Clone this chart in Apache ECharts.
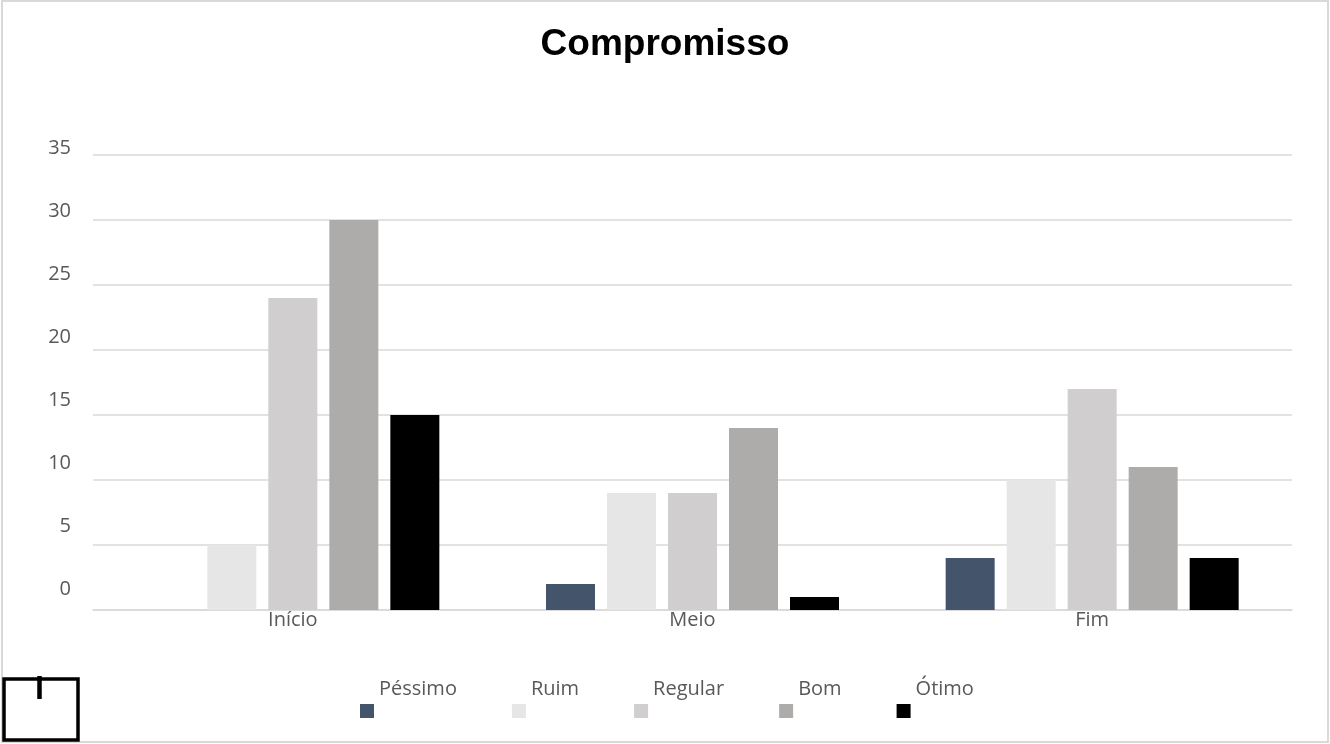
<!DOCTYPE html>
<html>
<head>
<meta charset="utf-8">
<script src="https://cdn.jsdelivr.net/npm/echarts@6/dist/echarts.min.js"></script>
<style>
  html, body { margin: 0; padding: 0; background: #fff; }
  #chart { width: 1330px; height: 744px; }
</style>
</head>
<body>
<div id="chart"></div>
<script>
// Chart data
const categories = ['Início', 'Meio', 'Fim'];
const seriesNames = ['Péssimo', 'Ruim', 'Regular', 'Bom', 'Ótimo'];
const pessimo = [0, 2, 4];
const ruim = [5, 9, 10];
const regular = [24, 9, 17];
const bom = [30, 14, 11];
const otimo = [15, 1, 4];
const yTicks = [0, 5, 10, 15, 20, 25, 30, 35];

const values = [pessimo, ruim, regular, bom, otimo];
const colors = ['#44546a', '#e7e6e6', '#d0cece', '#aeabab', '#000000'];

const chart = echarts.init(document.getElementById('chart'), null, { renderer: 'canvas' });

const FONT = '"Open Sans", "Noto Sans", sans-serif';
const LABEL = { fontFamily: FONT, fontSize: 20, color: '#595959' };

chart.setOption({
  animation: false,
  backgroundColor: '#ffffff',
  title: {
    text: 'Compromisso',
    left: 'center',
    top: 21,
    textStyle: {
      fontFamily: '"Liberation Sans", Arial, sans-serif',
      fontWeight: 'bold',
      fontSize: 37,
      color: '#000000'
    }
  },
  legend: {
    data: seriesNames,
    left: 355,
    top: 674,
    itemWidth: 14,
    itemHeight: 14,
    itemGap: 55,
    icon: 'rect',
    formatter: name => '{t|' + name + '}',
    textStyle: {
      rich: {
        t: Object.assign({ padding: [0, 0, 44, 0] }, LABEL)
      }
    }
  },
  grid: [
    // plotting area
    { left: 93, right: 38, top: 155, bottom: 134 },
    // value-label column, slightly compressed scale
    { left: 93, right: 38, top: 148, bottom: 155 }
  ],
  xAxis: [
    {
      type: 'category',
      gridIndex: 0,
      data: categories,
      axisTick: { show: false },
      axisLine: { lineStyle: { color: '#d9d9d9', width: 1.5 } },
      axisLabel: Object.assign({ margin: 0 }, LABEL)
    },
    { type: 'category', gridIndex: 1, data: categories, show: false }
  ],
  yAxis: [
    {
      type: 'value',
      gridIndex: 0,
      min: yTicks[0],
      max: yTicks[yTicks.length - 1],
      interval: 5,
      axisLine: { show: false },
      axisTick: { show: false },
      axisLabel: { show: false },
      splitLine: { lineStyle: { color: '#d9d9d9', width: 1.5 } }
    },
    {
      type: 'value',
      gridIndex: 1,
      min: yTicks[0],
      max: yTicks[yTicks.length - 1],
      interval: 5,
      axisLine: { show: false },
      axisTick: { show: false },
      splitLine: { show: false },
      axisLabel: Object.assign({ margin: 22 }, LABEL)
    }
  ],
  series: seriesNames.map((name, i) => ({
    name: name,
    type: 'bar',
    xAxisIndex: 0,
    yAxisIndex: 0,
    data: values[i],
    barWidth: 49,
    barGap: '24.5%',
    itemStyle: { color: colors[i] }
  })),
  graphic: [
    {
      type: 'rect',
      shape: { x: 2, y: 1, width: 1326, height: 741 },
      style: { fill: 'none', stroke: '#d9d9d9', lineWidth: 2 },
      silent: true
    },
    {
      type: 'rect',
      shape: { x: 4, y: 679, width: 74, height: 61 },
      style: { fill: '#ffffff', stroke: '#000000', lineWidth: 3.5 },
      silent: true
    },
    {
      type: 'line',
      shape: { x1: 39.5, y1: 676, x2: 39.5, y2: 699 },
      style: { stroke: '#000000', lineWidth: 4.5 },
      silent: true
    }
  ]
});
</script>
</body>
</html>
